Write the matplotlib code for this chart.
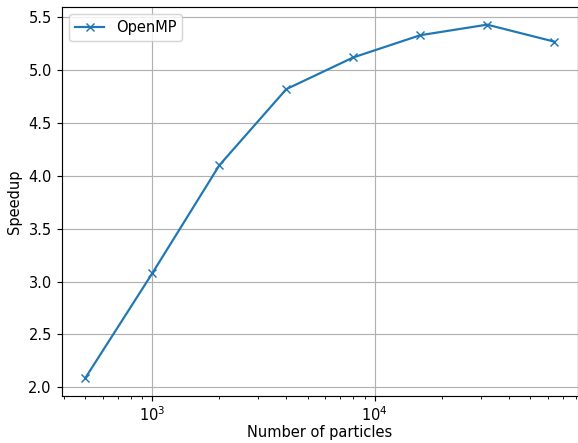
import matplotlib
matplotlib.use("Agg")
import matplotlib.pyplot as plt

particles = [500, 1000, 2000, 4000, 8000, 16000, 32000, 64000]
speedup = [2.09, 3.08, 4.10, 4.82, 5.12, 5.33, 5.43, 5.27]

DPI = 105
fig, ax = plt.subplots(figsize=(578 / DPI, 443 / DPI), dpi=DPI)
ax.plot(particles, speedup, marker='x', label='OpenMP')
ax.set_xscale('log')
ax.set_xlabel('Number of particles')
ax.set_ylabel('Speedup')
ax.grid(True)
ax.legend(loc='upper left')
fig.subplots_adjust(left=62 / 578, right=577.5 / 578, top=1 - 7 / 443, bottom=1 - 395.5 / 443)
ax.xaxis.set_label_coords(0.5, -0.076)
fig.savefig('out.png', dpi=DPI)
